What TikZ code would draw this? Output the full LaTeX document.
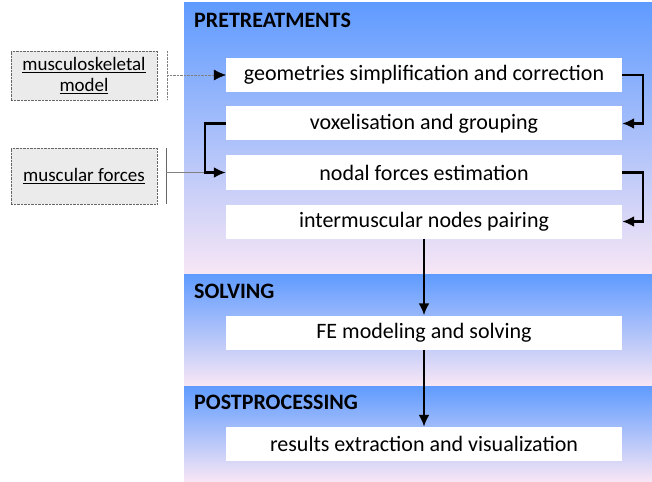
\documentclass[tikz,border=0pt]{standalone}
\usepackage{fontspec}
\setmainfont{Carlito}
\usetikzlibrary{arrows.meta}

\definecolor{haut}{RGB}{95,155,255}
\definecolor{milieu}{RGB}{140,192,255}
\definecolor{bas}{RGB}{247,230,245}

\begin{document}
\begin{tikzpicture}[x=1pt,y=-1pt,
        etape/.style={fill=white,minimum width=396pt,minimum height=34pt,inner sep=0pt,
                      font=\fontsize{22}{24}\selectfont},
        phase/.style={anchor=west,inner sep=0pt,font=\bfseries\fontsize{22}{24}\selectfont},
        entree/.style={draw=black!60,densely dotted,fill=black!8,minimum width=146pt,
                       inner sep=0pt,align=center,font=\fontsize{19}{23}\selectfont},
        panneau/.style={top color=haut,middle color=milieu,bottom color=bas},
        pointe/.style={-{Latex[black,length=12pt,width=11pt]}},
        lien/.style={pointe,line width=2.4pt}]
      \useasboundingbox (0,0) rectangle (652,481);
      % fonds des trois phases
      \shade[panneau] (184,3)   rectangle (652,273);
      \shade[panneau] (184,274) rectangle (652,385);
      \shade[panneau] (184,386) rectangle (652,481);
      \node [phase] (pre)  at (194,20)  {PRETREATMENTS};
      \node [phase] (sol)  at (194,291) {SOLVING};
      \node [phase] (post) at (194,402) {POSTPROCESSING};
      % etapes
      \node [etape] (geo)  at (424,75)    {geometries simplification and correction};
      \node [etape] (vox)  at (424,123.5) {voxelisation and grouping};
      \node [etape] (nod)  at (424,172.5) {nodal forces estimation};
      \node [etape] (pair) at (424,221.5) {intermuscular nodes pairing};
      \node [etape] (fe)   at (424,332.5) {FE modeling and solving};
      \node [etape] (res)  at (424,444)   {results extraction and visualization};
      % entrees
      \node [entree,minimum height=49pt] (msk) at (84,75.5)
            {\underline{musculoskeletal}\\[-2pt]\underline{model}};
      \node [entree,minimum height=56pt] (mf)  at (84,176) {\underline{muscular forces}};
      \coordinate (c1) at (167,75);
      \coordinate (c2) at (166,172);
      \draw [black!50,densely dotted] (167,51) -- (167,100);
      \draw [black!60] (166,148) -- (166,204);
      \draw [black!50,densely dotted,pointe] (c1) -- (geo.west);
      \draw [black!50] (c2) -- (208,172);
      % enchainement
      \draw [lien] (geo.east) -- ++(21,0) |- (vox.east);
      \draw [lien] (vox.west) -- ++(-21,0) |- (nod.west);
      \draw [lien] (nod.east) -- ++(21,0) |- (pair.east);
      \draw [lien] (pair) -- (fe);
      \draw [lien] (fe) -- (res);
\end{tikzpicture}
\end{document}
